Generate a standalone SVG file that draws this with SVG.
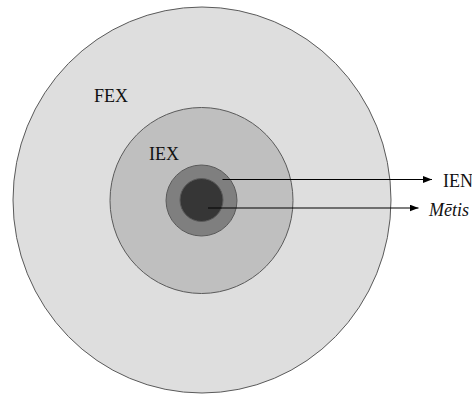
<svg xmlns="http://www.w3.org/2000/svg" width="472" height="394" viewBox="0 0 472 394">
<style>
.ring{stroke:#5a5a5a;stroke-width:1}
.lbl{font-family:'Liberation Serif','Times New Roman','DejaVu Serif',serif;font-size:18px;fill:#111}
.conn{stroke:#000;stroke-width:1.2;fill:none}
</style>
<defs>
<marker id="ah" viewBox="0 0 10 10" refX="10" refY="5" markerWidth="9" markerHeight="7" markerUnits="userSpaceOnUse" orient="auto" preserveAspectRatio="none">
<path d="M0,0 L10,5 L0,10 Z" fill="#000"/>
</marker>
</defs>
<rect width="472" height="394" fill="#fff"/>
<g id="fex">
<ellipse class="ring" cx="202" cy="200" rx="189" ry="193" fill="#dedede"/>
<text class="lbl" font-family="Liberation Serif, DejaVu Serif, serif" x="94" y="102">FEX</text>
</g>
<g id="iex">
<ellipse class="ring" cx="201.5" cy="200.5" rx="91.5" ry="93" fill="#bfbfbf"/>
<text class="lbl" font-family="Liberation Serif, DejaVu Serif, serif" x="149" y="160">IEX</text>
</g>
<g id="ien">
<circle class="ring" cx="201.5" cy="200.5" r="35.5" fill="#7f7f7f"/>
<text class="lbl" font-family="Liberation Serif, DejaVu Serif, serif" x="443" y="187">IEN</text>
</g>
<g id="metis">
<circle class="ring" cx="201.5" cy="200" r="21.5" fill="#363636"/>
<text class="lbl" font-family="Liberation Serif, DejaVu Serif, serif" x="429" y="216" font-style="italic">Mētis</text>
</g>
<g id="connectors">
<line class="conn" x1="222.5" y1="179.5" x2="432" y2="179.5" marker-end="url(#ah)"/>
<line class="conn" x1="208" y1="208" x2="418.5" y2="208" marker-end="url(#ah)"/>
</g>
</svg>
